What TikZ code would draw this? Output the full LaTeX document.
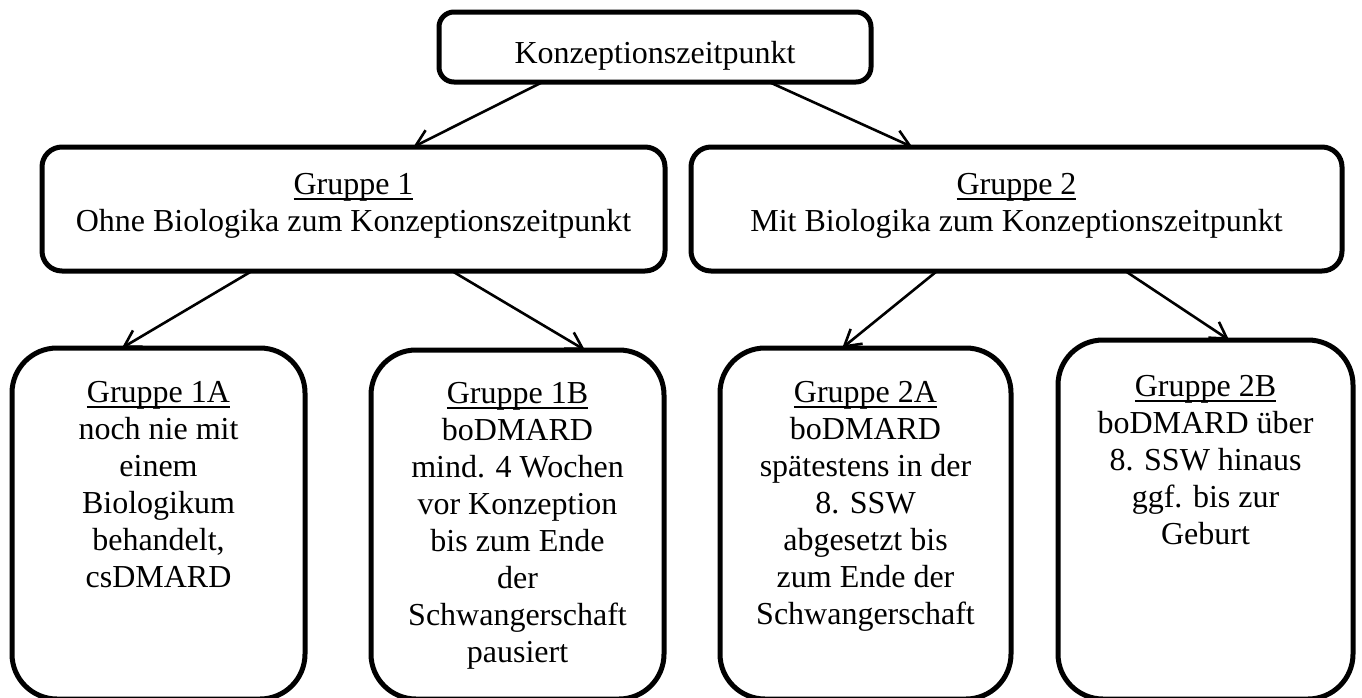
\documentclass[tikz,border=0pt]{standalone}
\usepackage{fontspec}
\setmainfont{Liberation Serif}
\usetikzlibrary{arrows.meta,calc}
\newcommand{\grpul}[1]{\setbox0\hbox{#1}\rlap{\rule[-6pt]{\wd0}{2pt}}\box0}
\begin{document}
\begin{tikzpicture}[x=1pt,y=-1pt,
  boxbase/.style={draw=black, line width=5pt, fill=white, inner sep=0pt, outer sep=0pt},
  topbox/.style={boxbase, rounded corners=15pt},
  groupbox/.style={boxbase, rounded corners=20pt},
  subbox/.style={boxbase, rounded corners=45pt},
  txt/.style={font=\fontsize{32}{37}\selectfont, align=center, inner sep=0pt, anchor=north},
  conn/.style={line width=2.6pt, -{Straight Barb[length=16pt,width=19pt,line width=2.6pt]}}
]
\useasboundingbox (0,0) rectangle (1362,697);

% boxes
\node[topbox, minimum width=432pt, minimum height=70pt] (top) at (655,47) {};
\node[groupbox, minimum width=623pt, minimum height=124pt] (g1) at (353.5,209) {};
\node[groupbox, minimum width=651pt, minimum height=124pt] (g2) at (1016.5,209) {};
\node[subbox, minimum width=293pt, minimum height=351pt] (s1a) at (158.5,523.5) {};
\node[subbox, minimum width=293pt, minimum height=349pt] (s1b) at (517.5,524.5) {};
\node[subbox, minimum width=291pt, minimum height=351pt] (s2a) at (865.5,523.5) {};
\node[subbox, minimum width=295pt, minimum height=359pt] (s2b) at (1205.5,519.5) {};

% texts
\node[txt] (t0) at (655,39) {\rule{0pt}{24pt}Konzeptionszeitpunkt};
\node[txt] (tg1) at (353.5,170) {\rule{0pt}{24pt}\grpul{Gruppe 1}\\Ohne Biologika zum Konzeptionszeitpunkt};
\node[txt] (tg2) at (1016.5,170) {\rule{0pt}{24pt}\grpul{Gruppe 2}\\Mit Biologika zum Konzeptionszeitpunkt};
\node[txt] (t1a) at (158.5,378) {\rule{0pt}{24pt}\grpul{Gruppe 1A}\\noch nie mit\\einem\\Biologikum\\behandelt,\\csDMARD};
\node[txt] (t1b) at (517.5,379) {\rule{0pt}{24pt}\grpul{Gruppe 1B}\\boDMARD\\mind. 4 Wochen\\vor Konzeption\\bis zum Ende\\der\\Schwangerschaft\\pausiert};
\node[txt] (t2a) at (865.5,378) {\rule{0pt}{24pt}\grpul{Gruppe 2A}\\boDMARD\\spätestens in der\\8. SSW\\abgesetzt bis\\zum Ende der\\Schwangerschaft};
\node[txt] (t2b) at (1205.5,372) {\rule{0pt}{24pt}\grpul{Gruppe 2B}\\boDMARD über\\8. SSW hinaus\\ggf. bis zur\\Geburt};

% connectors
\draw[conn] ($(top.south west)!0.24!(top.south east)$) -- ($(g1.north west)!0.596!(g1.north east)$);
\draw[conn] ($(top.south west)!0.764!(top.south east)$) -- ($(g2.north west)!0.34!(g2.north east)$);
\draw[conn] ($(g1.south west)!0.337!(g1.south east)$) -- ($(s1a.north west)!0.375!(s1a.north east)$);
\draw[conn] ($(g1.south west)!0.658!(g1.south east)$) -- ($(s1b.north west)!0.73!(s1b.north east)$);
\draw[conn] ($(g2.south west)!0.378!(g2.south east)$) -- ($(s2a.north west)!0.42!(s2a.north east)$);
\draw[conn] ($(g2.south west)!0.667!(g2.south east)$) -- ($(s2b.north west)!0.58!(s2b.north east)$);
\end{tikzpicture}
\end{document}
